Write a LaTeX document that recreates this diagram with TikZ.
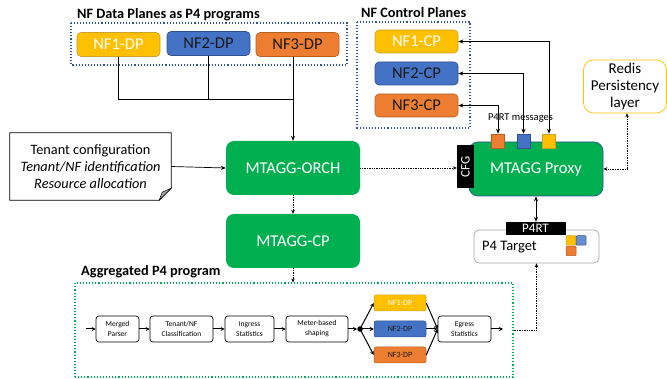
\documentclass[tikz,border=0pt]{standalone}
\usepackage{fontspec}
\usepackage{graphicx}
\setmainfont{Carlito}
\usetikzlibrary{arrows.meta}
\definecolor{nfyellow}{HTML}{FFC000}
\definecolor{nfyellowd}{HTML}{C9A227}
\definecolor{nfblue}{HTML}{4472C4}
\definecolor{nfblued}{HTML}{2F528F}
\definecolor{nforange}{HTML}{ED7D31}
\definecolor{nforanged}{HTML}{B85F22}
\definecolor{mgreen}{HTML}{00B050}
\definecolor{dotblue}{HTML}{2F5597}
\definecolor{tgray}{HTML}{A6A6A6}
\definecolor{textdark}{HTML}{1A1A1A}
\tikzset{
  fs/.style={font=\fontsize{#1}{#1}\selectfont},
  nfbox/.style={rectangle, rounded corners=4pt, minimum width=83pt, minimum height=24pt, inner sep=0pt, line width=0.6pt, fs=16.5},
  ylw/.style={fill=nfyellow, draw=nfyellowd, text=white},
  blu/.style={fill=nfblue, draw=nfblued, text=textdark},
  org/.style={fill=nforange, draw=nforanged, text=textdark},
  greenbox/.style={rectangle, fill=mgreen, rounded corners=8pt, text=white, minimum width=134pt, minimum height=54pt, inner sep=0pt, fs=16.5},
  pipe/.style={rectangle, draw, rounded corners=3pt, line width=0.7pt, minimum height=26pt, inner sep=0pt, align=center, font=\fontsize{7.5}{10}\selectfont},
  smalldp/.style={rectangle, rounded corners=2pt, minimum width=52pt, minimum height=16pt, inner sep=0pt, line width=0.5pt, fs=8},
  tag/.style={rectangle, fill=black, text=white, inner sep=0pt},
  arr/.style={-{Stealth[length=5pt,width=4pt]}, line width=0.7pt},
  barr/.style={{Stealth[length=5pt,width=4pt]}-{Stealth[length=5pt,width=4pt]}, line width=0.7pt},
  darr/.style={-{Stealth[length=4pt,width=3.5pt]}, line width=0.7pt, densely dotted},
  dbarr/.style={{Stealth[length=4pt,width=3.5pt]}-{Stealth[length=4pt,width=3.5pt]}, line width=0.7pt, densely dotted},
  parr/.style={-{Stealth[length=4pt,width=4pt]}, line width=1pt},
  title/.style={anchor=west, inner sep=0pt, font=\fontsize{14.3}{15}\selectfont\bfseries},
  sq/.style={rectangle, minimum width=13pt, minimum height=14pt, inner sep=0pt, line width=0.5pt},
  ssq/.style={rectangle, rounded corners=1pt, minimum width=10pt, minimum height=9.5pt, inner sep=0pt, line width=0.5pt}
}
\begin{document}
\begin{tikzpicture}[x=1pt, y=-1pt]
\useasboundingbox (0,0) rectangle (667,379);

% ---------- NF data planes ----------
\node[title] (tdp) at (77,15) {NF Data Planes as P4 programs};
\draw[dotblue, line width=1.1pt, dotted] (71,23) rectangle (347,65);
\node[nfbox, ylw] (nf1dp) at (118.5,44.5) {NF1-DP};
\node[nfbox, blu] (nf2dp) at (208.5,43.5) {NF2-DP};
\node[nfbox, org] (nf3dp) at (297.5,44.5) {NF3-DP};

% ---------- NF control planes ----------
\node[title] (tcp) at (361,13) {NF Control Planes};
\draw[dotblue, line width=1.1pt, dotted] (357,22) rectangle (470,128);
\node[nfbox, ylw, minimum height=23pt] (nf1cp) at (416.5,41.5) {NF1-CP};
\node[nfbox, blu, minimum height=23pt] (nf2cp) at (416.5,73.5) {NF2-CP};
\node[nfbox, org, minimum height=23pt] (nf3cp) at (416.5,105.5) {NF3-CP};

% ---------- central column ----------
\node[greenbox] (orch) at (293,168) {MTAGG-ORCH};
\node[greenbox] (mcp) at (293,241) {MTAGG-CP};

% note
\node[minimum width=161pt, minimum height=67pt, inner sep=0pt, align=center, font=\fontsize{14.3}{17}\selectfont] (note) at (90.5,166.5)
  {Tenant configuration\\ \textit{Tenant/NF identification}\\ \textit{Resource allocation}};
\draw[line width=0.7pt] (note.north west) -- (note.north east) -- ([yshift=12pt]note.south east) -- ([xshift=-12pt]note.south east) -- (note.south west) -- cycle;
\draw[line width=0.5pt, fill=tgray] ([yshift=12pt]note.south east) -- ([xshift=-9pt,yshift=8pt]note.south east) -- ([xshift=-12pt]note.south east) -- cycle;

% ---------- proxy side ----------
\node[rectangle, fill=mgreen, draw=nfblued, line width=0.7pt, rounded corners=9pt, minimum width=134pt, minimum height=54pt, inner sep=0pt, text=white, fs=16.5] (proxy) at (536,169) {MTAGG Proxy};
\node[tag, minimum width=17pt, minimum height=43pt, fs=13] (cfg) at (465.5,167) {\rotatebox{90}{CFG}};

\node[sq, fill=nforange, draw=nforanged] (sq1) at (498,141) {};
\node[sq, fill=nfblue, draw=nfblued] (sq2) at (523.5,141) {};
\node[sq, fill=nfyellow, draw=nfyellowd] (sq3) at (549,141) {};

\node[rectangle, draw=nfyellow, line width=0.7pt, rounded corners=10pt, minimum width=83pt, minimum height=53pt, inner sep=0pt, align=center, font=\fontsize{15}{17}\selectfont] (redis) at (625,86.5) {Redis\\ Persistency\\ layer};

\node[rectangle, draw=tgray, line width=0.7pt, fill=white, rounded corners=5pt, minimum width=125pt, minimum height=33pt, inner sep=0pt] (p4t) at (536.5,246.5) {};
\node[anchor=west, inner sep=0pt, fs=14.5] (p4tl) at (482,247) {P4 Target};
\node[tag, minimum width=60pt, minimum height=13pt, fs=13] (p4rt) at (535.5,228.5) {P4RT};
\node[ssq, fill=nfyellow, draw=nfyellowd] (ss1) at (571,240.5) {};
\node[ssq, fill=nfblue!80!white, draw=nfblued] (ss2) at (581,240.5) {};
\node[ssq, fill=nforange, draw=nforanged] (ss3) at (571,251) {};

% ---------- connectors (top) ----------
\coordinate (mrg) at (293,99);
\draw[line width=0.7pt] (nf1dp.south) |- (mrg);
\draw[line width=0.7pt] (nf2dp.south) -- (nf2dp.south |- mrg);
\draw[arr] (nf3dp.south -| orch.north) -- (orch.north);

\draw[barr] (sq3.north) |- (nf1cp.east);
\draw[barr] (sq2.north) |- (nf2cp.east);
\draw[barr] (sq1.north) |- (nf3cp.east);
\node[fs=10.5, inner sep=0pt] (p4rtmsg) at (520.5,118) {P4RT messages};

\draw[arr] (note.east) -- (orch.west);
\draw[darr] (orch.east) -- (orch.east -| cfg.west);
\draw[darr] (orch.south) -- (mcp.north);
\draw[barr] (proxy.south) -- (proxy.south |- p4rt.north);
\draw[dbarr] ([xshift=2pt]redis.south) |- (proxy.east);

% ---------- aggregated program ----------
\node[title] (tagg) at (81,272) {Aggregated P4 program};
\node[rectangle, draw=mgreen, line width=1.1pt, dotted, minimum width=438pt, minimum height=94pt, inner sep=0pt] (agg) at (294,330) {};
\draw[darr] (mcp.south) -- (mcp.south |- agg.north);

\node[pipe, minimum width=43pt] (mp) at (117.5,329) {Merged\\Parser};
\node[pipe, minimum width=63pt] (tc) at (181.5,329) {Tenant/NF\\Classification};
\node[pipe, minimum width=49pt] (ins) at (249.5,329) {Ingress\\Statistics};
\node[pipe, minimum width=62pt] (ms) at (317,329) {Meter-based\\shaping};
\node[circle, fill=black, inner sep=0pt, minimum size=5.5pt] (dot) at (360,329) {};
\node[smalldp, ylw] (dp1) at (400,303) {NF1-DP};
\node[smalldp, blu] (dp2) at (400,329) {NF2-DP};
\node[smalldp, org] (dp3) at (400,355) {NF3-DP};
\node[pipe, minimum width=53pt] (es) at (464.5,329) {Egress\\Statistics};
\coordinate (pin) at (86,329);
\coordinate (pout) at (503,329);

\draw[parr] (pin) -- (mp.west);
\draw[parr] (mp.east) -- (tc.west);
\draw[parr] (tc.east) -- (ins.west);
\draw[parr] (ins.east) -- (ms.west);
\draw[parr] (ms.east) -- (dot.west);
\draw[parr] (dot.center) -- (dp1.west);
\draw[parr] (dot.center) -- (dp2.west);
\draw[parr] (dot.center) -- (dp3.west);
\draw[parr] (dp1.east) -- (es.west);
\draw[parr] (dp2.east) -- (es.west);
\draw[parr] (dp3.east) -- (es.west);
\draw[parr] (es.east) -- (pout);
\draw[darr] (agg.east) -| (p4t.south);
\end{tikzpicture}
\end{document}
